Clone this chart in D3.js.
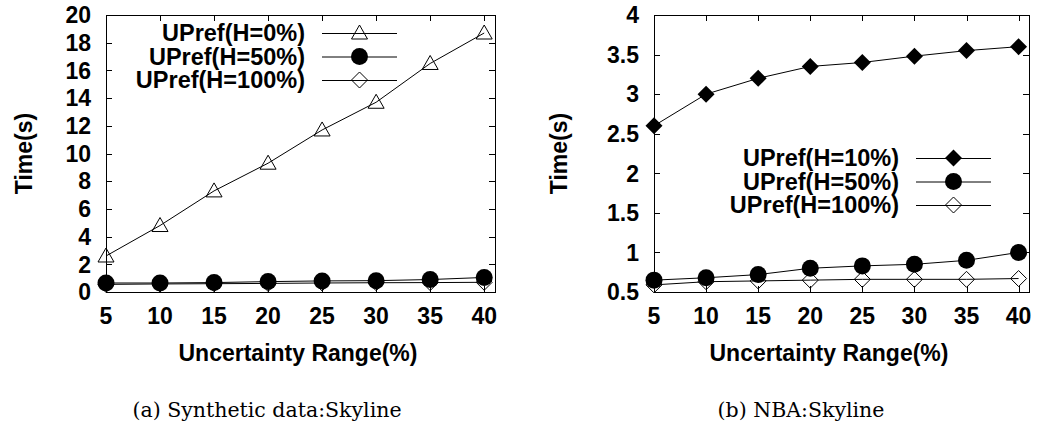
<!DOCTYPE html>
<html>
<head>
<meta charset="utf-8">
<script src="https://cdn.jsdelivr.net/npm/d3@7"></script>
<style>
  html, body { margin: 0; padding: 0; background: #fff; }
  svg { display: block; }
  .tick-label, .axis-title, .legend-label { font-family: "Liberation Sans", Arial, sans-serif; font-weight: bold; fill: #000; }
  .caption { font-family: "DejaVu Serif", "Liberation Serif", serif; fill: #000; }
</style>
</head>
<body>
<svg id="chart" width="1039" height="440"></svg>
<script>
// Uncertainty ranges (%) along the x axis
const ranges = [5, 10, 15, 20, 25, 30, 35, 40];

// (a) Synthetic data: runtime in seconds
const synH0   = [2.6, 4.8, 7.3, 9.3, 11.7, 13.7, 16.5, 18.7];
const synH50  = [0.65, 0.65, 0.68, 0.75, 0.8, 0.82, 0.9, 1.05];
const synH100 = [0.55, 0.58, 0.6, 0.62, 0.65, 0.67, 0.68, 0.7];

// (b) NBA data: runtime in seconds
const nbaH10  = [2.6, 3.0, 3.2, 3.35, 3.4, 3.48, 3.55, 3.6];
const nbaH50  = [0.65, 0.68, 0.72, 0.8, 0.83, 0.85, 0.9, 1.0];
const nbaH100 = [0.59, 0.63, 0.64, 0.65, 0.66, 0.66, 0.66, 0.67];

// Axis tick labels
const synYTicks = [0, 2, 4, 6, 8, 10, 12, 14, 16, 18, 20];
const nbaYTicks = [0.5, 1, 1.5, 2, 2.5, 3, 3.5, 4];

const svg = d3.select("#chart");

// Marker shapes
function drawMarker(g, type, x, y) {
  if (type === "triangle") {
    const s = 8;
    g.append("path")
      .attr("d", `M${x},${y - s}L${x + s},${y + s * 0.75}L${x - s},${y + s * 0.75}Z`)
      .attr("fill", "none").attr("stroke", "#000").attr("stroke-width", 1);
  } else if (type === "circle") {
    g.append("circle").attr("cx", x).attr("cy", y).attr("r", 8.5).attr("fill", "#000");
  } else if (type === "diamond") {
    const s = 8;
    g.append("path")
      .attr("d", `M${x},${y - s}L${x + s},${y}L${x},${y + s}L${x - s},${y}Z`)
      .attr("fill", "none").attr("stroke", "#000").attr("stroke-width", 1);
  } else if (type === "diamondFilled") {
    const s = 8.5;
    g.append("path")
      .attr("d", `M${x},${y - s}L${x + s},${y}L${x},${y + s}L${x - s},${y}Z`)
      .attr("fill", "#000");
  }
}

function panel(cfg) {
  const { left, right, top, bottom, yDomain, yTicks, yFormat, series, legend, caption, yTitleX, xTitleX, captionX } = cfg;
  const g = svg.append("g");
  const x = d3.scaleLinear().domain([5, 41]).range([left, right]);
  const y = d3.scaleLinear().domain(yDomain).range([bottom, top]);
  const tickLen = 6;

  // Ticks on all four sides, pointing inward
  const tg = g.append("g").attr("stroke", "#000").attr("stroke-width", 1);
  yTicks.forEach(v => {
    const yy = Math.round(y(v)) + 0.5;
    tg.append("line").attr("x1", left).attr("x2", left + tickLen).attr("y1", yy).attr("y2", yy);
    tg.append("line").attr("x1", right).attr("x2", right - tickLen).attr("y1", yy).attr("y2", yy);
  });
  ranges.forEach(v => {
    const xx = Math.round(x(v)) + 0.5;
    tg.append("line").attr("x1", xx).attr("x2", xx).attr("y1", bottom).attr("y2", bottom - tickLen);
    tg.append("line").attr("x1", xx).attr("x2", xx).attr("y1", top).attr("y2", top + tickLen);
  });

  // Tick labels
  yTicks.forEach(v => {
    g.append("text").attr("class", "tick-label")
      .attr("x", left - 15).attr("y", y(v)).attr("dy", "0.36em")
      .attr("text-anchor", "end").attr("font-size", 23)
      .text(yFormat(v));
  });
  ranges.forEach(v => {
    g.append("text").attr("class", "tick-label")
      .attr("x", x(v)).attr("y", bottom + 32)
      .attr("text-anchor", "middle").attr("font-size", 23)
      .text(v);
  });

  // Axis titles
  g.append("text").attr("class", "axis-title")
    .attr("transform", `translate(${yTitleX},${(top + bottom) / 2}) rotate(-90)`)
    .attr("text-anchor", "middle").attr("font-size", 23)
    .text("Time(s)");
  g.append("text").attr("class", "axis-title")
    .attr("x", xTitleX).attr("y", bottom + 69)
    .attr("text-anchor", "middle").attr("font-size", 23)
    .text("Uncertainty Range(%)");

  // Series lines and markers
  const line = d3.line().x((d, i) => x(ranges[i])).y(d => y(d));
  series.forEach(s => {
    g.append("path").datum(s.values).attr("d", line)
      .attr("fill", "none").attr("stroke", "#000").attr("stroke-width", 1);
    s.values.forEach((v, i) => drawMarker(g, s.marker, x(ranges[i]), y(v)));
  });

  // Legend
  series.forEach((s, i) => {
    const ly = legend.y + i * legend.dy;
    g.append("text").attr("class", "legend-label")
      .attr("x", legend.textRight).attr("y", ly).attr("dy", "0.36em")
      .attr("text-anchor", "end").attr("font-size", 23.5)
      .text(s.label);
    g.append("line").attr("x1", legend.lineX1).attr("x2", legend.lineX2)
      .attr("y1", ly + 0.5).attr("y2", ly + 0.5)
      .attr("stroke", "#000").attr("stroke-width", 1);
    drawMarker(g, s.marker, (legend.lineX1 + legend.lineX2) / 2, ly);
  });

  // Frame
  g.append("rect").attr("x", left + 0.5).attr("y", top + 0.5)
    .attr("width", right - left).attr("height", bottom - top)
    .attr("fill", "none").attr("stroke", "#000").attr("stroke-width", 1);

  // Caption
  g.append("text").attr("class", "caption")
    .attr("x", captionX).attr("y", 417)
    .attr("text-anchor", "middle").attr("font-size", 20.5)
    .text(caption);
}

panel({
  left: 106, right: 495, top: 15, bottom: 292,
  yDomain: [0, 20], yTicks: synYTicks, yFormat: d3.format("d"),
  series: [
    { label: "UPref(H=0%)", values: synH0, marker: "triangle" },
    { label: "UPref(H=50%)", values: synH50, marker: "circle" },
    { label: "UPref(H=100%)", values: synH100, marker: "diamond" }
  ],
  legend: { y: 33, dy: 23.5, textRight: 305, lineX1: 322, lineX2: 397 },
  caption: "(a) Synthetic data:Skyline",
  yTitleX: 32, xTitleX: 298, captionX: 267
});

panel({
  left: 654, right: 1029, top: 15, bottom: 292,
  yDomain: [0.5, 4], yTicks: nbaYTicks, yFormat: d => String(d),
  series: [
    { label: "UPref(H=10%)", values: nbaH10, marker: "diamondFilled" },
    { label: "UPref(H=50%)", values: nbaH50, marker: "circle" },
    { label: "UPref(H=100%)", values: nbaH100, marker: "diamond" }
  ],
  legend: { y: 158, dy: 23.5, textRight: 899, lineX1: 916, lineX2: 991 },
  caption: "(b) NBA:Skyline",
  yTitleX: 567, xTitleX: 829, captionX: 801
});
</script>
</body>
</html>
